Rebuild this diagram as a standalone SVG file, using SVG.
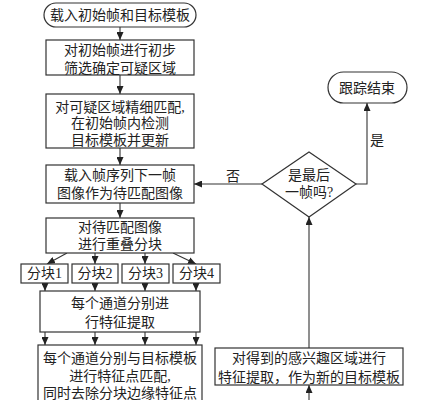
<svg xmlns="http://www.w3.org/2000/svg" width="429" height="400" viewBox="0 0 429 400">
<style>
.n{fill:#fff;stroke:#333;stroke-width:1.2}
.t{font-family:"Liberation Serif","Noto Sans CJK SC",serif;font-size:14px;fill:#222;text-anchor:middle}
.c{fill:none;stroke:#333;stroke-width:1.1}
</style>
<defs>
<marker id="ah" markerUnits="userSpaceOnUse" markerWidth="9" markerHeight="7" refX="8" refY="3.5" orient="auto">
<path d="M0,0 L8,3.5 L0,7 Z" fill="#222"/>
</marker>
</defs>
<rect width="429" height="400" fill="#fff"/>
<g id="connectors">
<line class="c" x1="120" y1="27" x2="120" y2="40" marker-end="url(#ah)"/>
<line class="c" x1="120" y1="75" x2="120" y2="94" marker-end="url(#ah)"/>
<line class="c" x1="120" y1="148" x2="120" y2="165" marker-end="url(#ah)"/>
<line class="c" x1="120" y1="203" x2="120" y2="218" marker-end="url(#ah)"/>
<line class="c" x1="67" y1="253" x2="47" y2="264" marker-end="url(#ah)"/>
<line class="c" x1="95" y1="253" x2="95" y2="264" marker-end="url(#ah)"/>
<line class="c" x1="145" y1="253" x2="145" y2="264" marker-end="url(#ah)"/>
<line class="c" x1="173" y1="253" x2="196" y2="264" marker-end="url(#ah)"/>
<line class="c" x1="45" y1="283" x2="45" y2="291" marker-end="url(#ah)"/>
<line class="c" x1="95" y1="283" x2="95" y2="291" marker-end="url(#ah)"/>
<line class="c" x1="145" y1="283" x2="145" y2="291" marker-end="url(#ah)"/>
<line class="c" x1="196" y1="283" x2="196" y2="291" marker-end="url(#ah)"/>
<line class="c" x1="45" y1="332" x2="45" y2="345" marker-end="url(#ah)"/>
<line class="c" x1="95" y1="332" x2="95" y2="345" marker-end="url(#ah)"/>
<line class="c" x1="145" y1="332" x2="145" y2="345" marker-end="url(#ah)"/>
<line class="c" x1="196" y1="332" x2="196" y2="345" marker-end="url(#ah)"/>
<line class="c" x1="309" y1="402" x2="309" y2="385" marker-end="url(#ah)"/>
<line class="c" x1="309" y1="348" x2="309" y2="217" marker-end="url(#ah)"/>
<line class="c" x1="262" y1="184" x2="194" y2="184" marker-end="url(#ah)"/>
<polyline class="c" points="356,184 367,184 367,103" marker-end="url(#ah)"/>
<text class="t" x="233" y="181">否</text>
<text class="t" x="377" y="145">是</text>
</g>
<g id="start"><rect class="n" x="44" y="3" width="152" height="24" rx="12"/><text class="t" x="120" y="20">载入初始帧和目标模板</text></g>
<g id="n1"><rect class="n" x="46" y="40" width="148" height="35"/><text class="t" x="120" y="55">对初始帧进行初步</text><text class="t" x="120" y="73">筛选确定可疑区域</text></g>
<g id="n2"><rect class="n" x="46" y="94" width="148" height="54"/><text class="t" x="120" y="112">对可疑区域精细匹配,</text><text class="t" x="120" y="128">在初始帧内检测</text><text class="t" x="120" y="145">目标模板并更新</text></g>
<g id="n3"><rect class="n" x="46" y="165" width="148" height="38"/><text class="t" x="120" y="180">载入帧序列下一帧</text><text class="t" x="120" y="198">图像作为待匹配图像</text></g>
<g id="n4"><rect class="n" x="46" y="218" width="148" height="35"/><text class="t" x="120" y="232">对待匹配图像</text><text class="t" x="120" y="249">进行重叠分块</text></g>
<g id="b1"><rect class="n" x="21" y="264" width="47" height="19"/><text class="t" x="44.5" y="278">分块1</text></g>
<g id="b2"><rect class="n" x="72" y="264" width="46" height="19"/><text class="t" x="95" y="278">分块2</text></g>
<g id="b3"><rect class="n" x="122" y="264" width="47" height="19"/><text class="t" x="145.5" y="278">分块3</text></g>
<g id="b4"><rect class="n" x="173" y="264" width="47" height="19"/><text class="t" x="196.5" y="278">分块4</text></g>
<g id="n5"><rect class="n" x="40" y="291" width="160" height="41"/><text class="t" x="120" y="308">每个通道分别进</text><text class="t" x="120" y="327">行特征提取</text></g>
<g id="n6"><rect class="n" x="38" y="345" width="164" height="60"/><text class="t" x="120" y="363">每个通道分别与目标模板</text><text class="t" x="120" y="381">进行特征点匹配,</text><text class="t" x="120" y="398">同时去除分块边缘特征点</text></g>
<g id="n7"><rect class="n" x="215" y="348" width="188" height="37"/><text class="t" x="309" y="363">对得到的感兴趣区域进行</text><text class="t" x="309" y="382">特征提取，作为新的目标模板</text></g>
<g id="dec"><polygon class="n" points="262,184 309,152 356,184 309,217"/><text class="t" x="309" y="180">是最后</text><text class="t" x="309" y="197">一帧吗?</text></g>
<g id="end"><rect class="n" x="328" y="72" width="79" height="31" rx="15.5"/><text class="t" x="367" y="93">跟踪结束</text></g>
</svg>
